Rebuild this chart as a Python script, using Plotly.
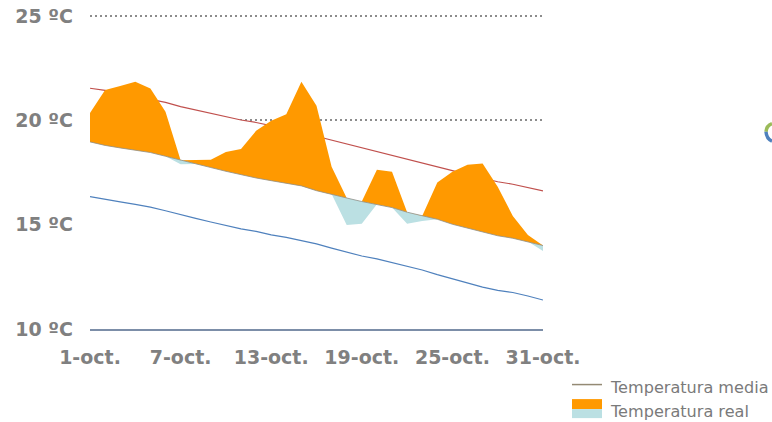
import numpy as np
import plotly.graph_objects as go

days = [f"{d}-oct." for d in range(1, 32)]
tick_days = ["1-oct.", "7-oct.", "13-oct.", "19-oct.", "25-oct.", "31-oct."]
y_ticks = [10, 15, 20, 25]
y_tick_labels = ["10 ºC", "15 ºC", "20 ºC", "25 ºC"]

temp_media = [18.97, 18.80, 18.68, 18.58, 18.46, 18.28, 18.09, 17.91, 17.74, 17.56, 17.39,
              17.24, 17.11, 16.99, 16.86, 16.63, 16.47, 16.28, 16.11, 15.98, 15.82, 15.60,
              15.42, 15.26, 15.02, 14.83, 14.64, 14.47, 14.35, 14.19, 14.00]
temp_real = [20.36, 21.46, 21.65, 21.85, 21.53, 20.42, 17.90, 18.09, 18.11, 18.49, 18.63,
             19.50, 19.98, 20.30, 21.85, 20.70, 17.78, 14.99, 15.04, 17.63, 17.54, 15.05,
             15.18, 17.02, 17.54, 17.87, 17.93, 16.82, 15.42, 14.51, 13.74]
temp_max = [21.54, 21.44, 21.30, 21.15, 21.03, 20.86, 20.66, 20.50, 20.36, 20.19, 20.02,
            19.90, 19.76, 19.59, 19.42, 19.24, 19.06, 18.87, 18.70, 18.52, 18.33, 18.15,
            17.98, 17.78, 17.59, 17.40, 17.23, 17.06, 16.94, 16.78, 16.62]
temp_min = [16.35, 16.21, 16.09, 15.97, 15.84, 15.67, 15.47, 15.30, 15.13, 14.96, 14.80,
            14.68, 14.51, 14.39, 14.24, 14.08, 13.88, 13.69, 13.50, 13.36, 13.19, 13.02,
            12.83, 12.61, 12.40, 12.21, 12.01, 11.85, 11.75, 11.58, 11.39]

ORANGE = "#ff9900"
PALE = "#bbe0e3"
GREY = "#808080"
W, H = 772, 422
L, R, T, B = 90, 543, 14.4, 329


def px(x):
    return (x - L) / (R - L)


def py(y):
    return (B - y) / (B - T)


above = np.maximum(temp_real, temp_media).tolist()
below = np.minimum(temp_real, temp_media).tolist()

fig = go.Figure()
fig.add_trace(go.Scatter(x=days, y=temp_max, mode="lines", fill="tozeroy", fillcolor="white",
                         line=dict(color="#c0504d", width=1.2), showlegend=False))
fig.add_trace(go.Scatter(x=days, y=temp_min, mode="lines",
                         line=dict(color="#4f81bd", width=1.2), showlegend=False))
fig.add_trace(go.Scatter(x=days, y=temp_media, mode="lines", line=dict(width=0), showlegend=False))
fig.add_trace(go.Scatter(x=days, y=below, mode="lines", fill="tonexty", fillcolor=PALE,
                         line=dict(width=0), showlegend=False))
fig.add_trace(go.Scatter(x=days, y=temp_media, mode="lines", line=dict(width=0), showlegend=False))
fig.add_trace(go.Scatter(x=days, y=above, mode="lines", fill="tonexty", fillcolor=ORANGE,
                         line=dict(width=0), showlegend=False))
fig.add_trace(go.Scatter(x=days, y=temp_media, mode="lines",
                         line=dict(color="#8f8f88", width=0.8), showlegend=False))

shapes = [
    dict(type="line", xref="paper", yref="paper", x0=px(572), x1=px(602), y0=py(384.5), y1=py(384.5),
         line=dict(color="#948a74", width=1.5)),
    dict(type="rect", xref="paper", yref="paper", x0=px(572), x1=px(602), y0=py(409), y1=py(399),
         fillcolor=ORANGE, line=dict(width=0)),
    dict(type="rect", xref="paper", yref="paper", x0=px(572), x1=px(602), y0=py(418), y1=py(409),
         fillcolor=PALE, line=dict(width=0)),
    # clipped ring at the right edge of the picture
    dict(type="path", xref="paper", yref="paper",
         path=f"M {px(766)} {py(132)} Q {px(766.5)} {py(126)} {px(772)} {py(124)}",
         line=dict(color="#9bbb59", width=3.5)),
    dict(type="path", xref="paper", yref="paper",
         path=f"M {px(766)} {py(132)} Q {px(766.5)} {py(139)} {px(772)} {py(141.5)}",
         line=dict(color="#4f81bd", width=3.5)),
]

annotations = [
    dict(text="Temperatura media", xref="paper", yref="paper", x=px(611), y=py(387), xanchor="left",
         yanchor="middle", showarrow=False, xshift=-3,
         font=dict(family="DejaVu Sans", size=16.1, color="#7a7a7a")),
    dict(text="Temperatura real", xref="paper", yref="paper", x=px(611), y=py(411), xanchor="left",
         yanchor="middle", showarrow=False, xshift=-3,
         font=dict(family="DejaVu Sans", size=16.1, color="#7a7a7a")),
]

tickfont = dict(family="DejaVu Sans", size=19, color=GREY, weight="bold")
fig.update_layout(
    width=W, height=H, autosize=False,
    margin=dict(l=L, r=W - R, t=T, b=H - B),
    paper_bgcolor="white", plot_bgcolor="white",
    showlegend=False, shapes=shapes, annotations=annotations,
    xaxis=dict(type="category", categoryorder="array", categoryarray=days, range=[0, 30],
               tickmode="array", tickvals=tick_days, ticktext=tick_days, showgrid=False, automargin=False,
               showline=True, linecolor="#7c8ea8", linewidth=1.5, ticks="", zeroline=False,
               tickfont=tickfont, ticklabelstandoff=10),
    yaxis=dict(range=[10, 25.1], tickmode="array", tickvals=y_ticks, ticktext=y_tick_labels, automargin=False,
               showgrid=True, griddash="2px,3px", gridcolor="#8c8c8c", gridwidth=2, zeroline=False,
               showline=False, ticks="", tickfont=tickfont, ticklabelstandoff=16),
)
fig.write_html("out.html", config={"displayModeBar": False},
               post_script="document.body.style.margin='0';document.body.style.overflow='hidden';")
